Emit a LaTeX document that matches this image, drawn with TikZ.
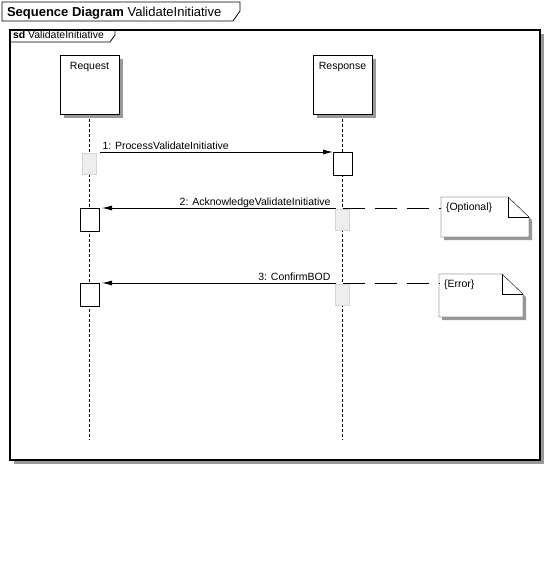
\documentclass[tikz,border=0pt]{standalone}
\usepackage{fontspec}
\setmainfont{Liberation Sans}
\usetikzlibrary{arrows.meta,backgrounds,shadows}
\definecolor{sdshadow}{RGB}{153,153,153}
\definecolor{sdidle}{RGB}{238,238,238}
\definecolor{sdidleline}{RGB}{214,214,214}

\begin{document}
\begin{tikzpicture}[x=1pt,y=-1pt,line width=0.8pt,font=\fontsize{10.5}{12}\selectfont,
    every node/.style={inner sep=0pt,outer sep=0pt},
    boxshadow/.style={drop shadow={shadow xshift=3.5pt,shadow yshift=-3.5pt,fill=sdshadow,opacity=1}},
    headbox/.style={draw,fill=white,boxshadow,minimum width=59pt,minimum height=59pt,anchor=north west},
    actbox/.style={draw,fill=white,minimum width=19pt,minimum height=23pt,anchor=north},
    idlebox/.style={draw=sdidleline,fill=sdidle,minimum width=14pt,minimum height=21pt,anchor=north},
    notebox/.style={anchor=north west,inner sep=5pt,text height=8pt,align=left},
    lifeline/.style={dash pattern=on 3pt off 2pt},
    msg/.style={-{Latex[length=10pt,width=5pt]}},
    notelink/.style={dash pattern=on 22pt off 10pt}]
  \useasboundingbox (0,0) rectangle (546,574);
  % frame and title
  \begin{scope}[on background layer]
    \node[draw,fill=white,line width=1.3pt,boxshadow,minimum width=530pt,minimum height=430pt,anchor=north west] (frame) at (10,30) {};
  \end{scope}
  \draw (2,2) -- (240,2) -- (240,11) -- (233,21) -- (2,21) -- cycle;
  \node[anchor=base west] (title) at (7,16.5) {\fontsize{13}{15}\selectfont\textbf{Sequence Diagram} ValidateInitiative};
  \draw (frame.north west) -- (115,30) -- (115,35) -- (110,42) -- (10,42);
  \node[anchor=base west] (sdtag) at (13,38.5) {\textbf{sd} ValidateInitiative};
  % lifeline heads
  \node[headbox,label={[anchor=north,yshift=-7pt]north:Request}] (req) at (60,55) {};
  \node[headbox,label={[anchor=north,yshift=-7pt]north:Response}] (resp) at (313,55) {};
  \coordinate (lend) at (0,440);
  % activations
  \node[idlebox] (g1) at (89.5,153) {};
  \node[actbox] (a1) at (342.5,152) {};
  \node[actbox] (a2) at (89.5,208) {};
  \node[idlebox] (g2) at (342.5,209) {};
  \node[actbox] (a3) at (89.5,283) {};
  \node[idlebox] (g3) at (342.5,284) {};
  % notes
  \node[notebox,text width=78pt,text depth=22pt] (n1) at (441,197) {\{Optional\}};
  \node[notebox,text width=74pt,text depth=25pt] (n2) at (439,274) {\{Error\}};
  \begin{scope}[on background layer]
    \foreach \n in {req,resp}
      \draw[lifeline] (\n.south) -- (\n.south |- lend);
    \foreach \n in {n1,n2} {
      \fill[sdshadow] ([shift={(3,3)}]\n.north west) -- ([shift={(-18,3)}]\n.north east) -- ([shift={(3,23)}]\n.north east) -- ([shift={(3,3)}]\n.south east) -- ([shift={(3,3)}]\n.south west) -- cycle;
      \draw[fill=white] (\n.north west) -- ([xshift=-21pt]\n.north east) -- ([yshift=-20pt]\n.north east) -- (\n.south east) -- (\n.south west) -- cycle;
      \draw ([xshift=-21pt]\n.north east) |- ([yshift=-20pt]\n.north east);
    }
  \end{scope}
  % messages
  \draw[msg,shorten <=3pt] (g1.north east |- a1.north) -- (a1.north west)
    node[pos=0,anchor=base west,xshift=6pt,yshift=3pt] (m1) {1: ProcessValidateInitiative};
  \draw[msg,shorten >=3pt] (g2.north west |- a2.north) -- (a2.north east)
    node[pos=0,anchor=base east,xshift=-5pt,yshift=3pt] (m2) {2: AcknowledgeValidateInitiative};
  \draw[msg,shorten >=3pt] (g3.north west |- a3.north) -- (a3.north east)
    node[pos=0,anchor=base east,xshift=-5pt,yshift=3pt] (m3) {3: ConfirmBOD};
  % note links
  \draw[notelink] (g2.north |- a2.north) -- (n1.west |- a2.north);
  \draw[notelink] (g3.north |- a3.north) -- (n2.west |- a3.north);
\end{tikzpicture}
\end{document}
